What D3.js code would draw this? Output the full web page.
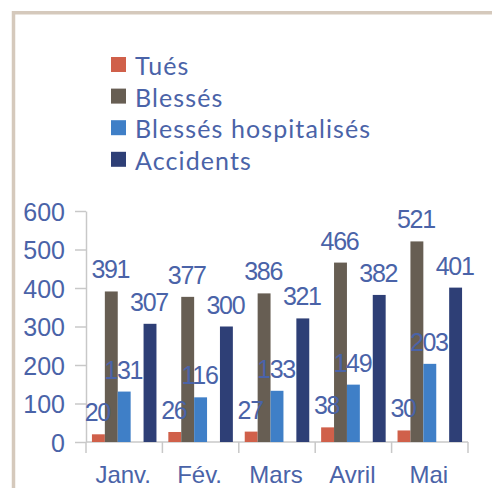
<!DOCTYPE html>
<html>
<head>
  <meta charset="utf-8">
  <title>Accidents - Janv. à Mai</title>
  <script src="https://d3js.org/d3.v7.min.js"></script>
  <style>
    body { margin: 0; background: #fff; }
  </style>
</head>
<body>
  <script>
    var months = ['Janv.', 'Fév.', 'Mars', 'Avril', 'Mai'];
    var seriesNames = ['Tués', 'Blessés', 'Blessés hospitalisés', 'Accidents'];
    var tues = [20, 26, 27, 38, 30];
    var blesses = [391, 377, 386, 466, 521];
    var hospitalises = [131, 116, 133, 149, 203];
    var accidents = [307, 300, 321, 382, 401];
    var yTicks = [0, 100, 200, 300, 400, 500, 600];

    var colors = ['#d0604a', '#675e53', '#3f7fc7', '#2e3f76'];
    var textColor = '#4a63a8';
    var axisColor = '#c8c8c8';

    var series = [
      { name: seriesNames[0], slot: 's0', values: tues, color: colors[0] },
      { name: seriesNames[1], slot: 's1', values: blesses, color: colors[1] },
      { name: seriesNames[2], slot: 's2', values: hospitalises, color: colors[2] },
      { name: seriesNames[3], slot: 's4', values: accidents, color: colors[3] }
    ];

    var width = 492, height = 488;
    var svg = d3.select('body').append('svg')
      .attr('width', width)
      .attr('height', height);

    svg.append('rect')
      .attr('width', width).attr('height', height).attr('fill', '#fff');

    // frame (top + left)
    svg.append('path')
      .attr('d', 'M13.5,' + height + 'V12.8H' + width)
      .attr('fill', 'none')
      .attr('stroke', '#d5c9bc')
      .attr('stroke-width', 3.5);

    var x = d3.scaleBand()
      .domain(months)
      .range([86, 468])
      .padding(0);

    // 5 slots per month, 4th slot left empty
    var xs = d3.scaleBand()
      .domain(['s0', 's1', 's2', 's3', 's4'])
      .range([0, x.bandwidth()])
      .paddingInner(0)
      .paddingOuter(0.46);

    var y = d3.scaleLinear()
      .domain([0, 600])
      .range([442, 211]);

    // y axis
    var yAxis = svg.append('g')
      .attr('transform', 'translate(86,0)')
      .call(d3.axisLeft(y).tickValues(yTicks).tickSize(11).tickPadding(10).tickSizeOuter(0));
    yAxis.select('.domain').attr('stroke', axisColor).attr('stroke-width', 1.5);
    yAxis.selectAll('.tick line').attr('stroke', axisColor).attr('stroke-width', 1.5);
    yAxis.selectAll('.tick text')
      .attr('fill', textColor)
      .attr('dy', '0.36em')
      .style('font-family', '"Liberation Sans", Arial, sans-serif')
      .style('font-size', '25px');

    // x axis baseline
    svg.append('line')
      .attr('x1', x.range()[0]).attr('x2', x.range()[1])
      .attr('y1', y(0)).attr('y2', y(0))
      .attr('stroke', axisColor).attr('stroke-width', 1.5);

    // category boundary ticks
    var bounds = months.map(function(m) { return x(m); }).concat([x.range()[1]]);
    svg.selectAll('line.xtick')
      .data(bounds)
      .enter().append('line')
      .attr('class', 'xtick')
      .attr('x1', function(d) { return d; })
      .attr('x2', function(d) { return d; })
      .attr('y1', y(0))
      .attr('y2', y(0) + 11)
      .attr('stroke', axisColor).attr('stroke-width', 1.5);

    svg.selectAll('text.xlabel')
      .data(months)
      .enter().append('text')
      .attr('class', 'xlabel')
      .attr('x', function(d) { return x(d) + x.bandwidth() / 2 - 1; })
      .attr('y', 483)
      .attr('text-anchor', 'middle')
      .attr('fill', textColor)
      .style('font-family', '"Liberation Sans", Arial, sans-serif')
      .style('font-size', '24px')
      .text(function(d) { return d; });

    // bars
    var groups = svg.selectAll('g.serie')
      .data(series)
      .enter().append('g')
      .attr('class', 'serie')
      .attr('fill', function(d) { return d.color; });

    groups.selectAll('rect')
      .data(function(s) {
        return s.values.map(function(v, i) { return { slot: s.slot, month: months[i], value: v }; });
      })
      .enter().append('rect')
      .attr('x', function(d) { return x(d.month) + xs(d.slot); })
      .attr('width', xs.bandwidth())
      .attr('y', function(d) { return y(d.value); })
      .attr('height', function(d) { return y(0) - y(d.value); });

    // value labels
    var labels = svg.append('g');
    series.forEach(function(s) {
      labels.selectAll(null)
        .data(s.values)
        .enter().append('text')
        .attr('x', function(d, i) { return x(months[i]) + xs(s.slot) + xs.bandwidth() / 2 - 1; })
        .attr('y', function(d) { return y(d) - 13; })
        .attr('text-anchor', 'middle')
        .attr('fill', textColor)
        .style('font-family', '"Liberation Sans", Arial, sans-serif')
        .style('font-size', '25px')
        .style('letter-spacing', '-1.3px')
        .text(function(d) { return d; });
    });

    // legend
    var legend = svg.append('g').attr('transform', 'translate(111,57)');
    var items = legend.selectAll('g')
      .data(series)
      .enter().append('g')
      .attr('transform', function(d, i) { return 'translate(0,' + (i * 31.6) + ')'; });
    items.append('rect')
      .attr('width', 15).attr('height', 15)
      .attr('fill', function(d) { return d.color; });
    items.append('text')
      .attr('x', 24)
      .attr('y', 18)
      .attr('fill', textColor)
      .style('font-family', 'Lato, sans-serif')
      .style('font-size', '25px')
      .style('letter-spacing', '1.1px')
      .text(function(d) { return d.name; });
  </script>
</body>
</html>
